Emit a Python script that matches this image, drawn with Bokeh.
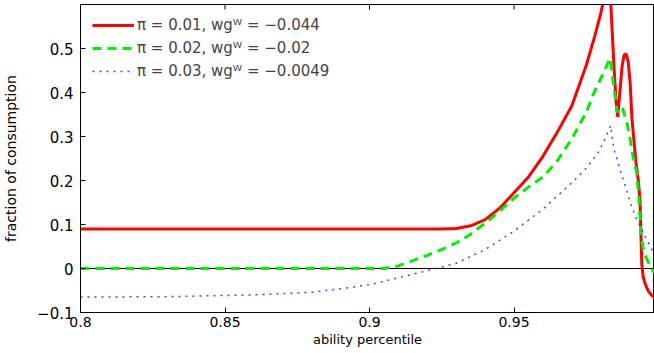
from bokeh.plotting import figure
from bokeh.models import Span, Range1d, FixedTicker, Legend, LegendItem
from bokeh.embed import file_html
from bokeh.resources import INLINE

# ---- data ----
red_x = [0.80, 0.85, 0.90, 0.925, 0.930, 0.935, 0.940, 0.945, 0.950, 0.955, 0.960, 0.965,
         0.970, 0.975, 0.978, 0.980, 0.9815, 0.9825, 0.9832, 0.9838, 0.9846, 0.9853, 0.9859,
         0.9866, 0.9874, 0.9881, 0.9888, 0.9895, 0.9902, 0.9908, 0.9915, 0.9922, 0.9930,
         0.9936, 0.9939, 0.9942, 0.9947, 0.9955, 0.9965, 0.9975, 0.9986]
red_y = [0.09, 0.09, 0.09, 0.09, 0.091, 0.097, 0.111, 0.137, 0.172, 0.208, 0.255, 0.31,
         0.37, 0.462, 0.53, 0.58, 0.625, 0.655, 0.64, 0.56, 0.457, 0.38, 0.344,
         0.40, 0.46, 0.485, 0.488, 0.47, 0.42, 0.34, 0.29, 0.24, 0.20,
         0.155, 0.08, 0.01, -0.02, -0.037, -0.052, -0.06, -0.066]

green_x = [0.80, 0.85, 0.90, 0.905, 0.91, 0.915, 0.92, 0.925, 0.93, 0.935, 0.94, 0.945, 0.95,
           0.955, 0.96, 0.965, 0.97, 0.975, 0.978, 0.981, 0.9832, 0.9840, 0.9848, 0.9857,
           0.9866, 0.9874, 0.9882, 0.9891, 0.9900, 0.9908, 0.9917, 0.9925, 0.9932, 0.9940,
           0.9950, 0.9962, 0.9975, 0.9986]
green_y = [0.0, 0.0, 0.0, 0.0, 0.006, 0.018, 0.03, 0.043, 0.058, 0.078, 0.103, 0.13, 0.16,
           0.185, 0.208, 0.245, 0.295, 0.355, 0.405, 0.445, 0.478, 0.44, 0.40, 0.355,
           0.365, 0.367, 0.35, 0.33, 0.30, 0.268, 0.24, 0.215, 0.16, 0.07,
           0.035, 0.018, 0.0, -0.01]

blue_x = [0.80, 0.83, 0.86, 0.88, 0.89, 0.90, 0.91, 0.92, 0.93, 0.94, 0.95, 0.96, 0.97,
          0.975, 0.979, 0.9815, 0.9834, 0.9846, 0.9858, 0.9868, 0.9880, 0.9891, 0.9905,
          0.9920, 0.9937, 0.9960, 0.9986]
blue_y = [-0.065, -0.064, -0.06, -0.054, -0.046, -0.037, -0.021, -0.005, 0.012, 0.043, 0.085,
          0.135, 0.195, 0.228, 0.262, 0.295, 0.325, 0.27, 0.245, 0.222, 0.198, 0.175, 0.145,
          0.118, 0.095, 0.065, 0.03]

labels = ["\u03c0 = 0.01, wg\u1d42 = \u22120.044",
          "\u03c0 = 0.02, wg\u1d42 = \u22120.02",
          "\u03c0 = 0.03, wg\u1d42 = \u22120.0049"]

x_ticks = [0.8, 0.85, 0.9, 0.95]
y_ticks = [-0.1, 0.0, 0.1, 0.2, 0.3, 0.4, 0.5]
y_tick_labels = {-0.1: "\u22120.1", 0.0: "0", 0.1: "0.1", 0.2: "0.2", 0.3: "0.3", 0.4: "0.4", 0.5: "0.5"}
x_tick_labels = {0.8: "0.8", 0.85: "0.85", 0.9: "0.9", 0.95: "0.95"}

FONT = "DejaVu Sans"
Y_MIN, Y_MAX = -0.1, 0.6
FRAME_H = 308  # px of plotting area

p = figure(width=654, height=353, output_backend="svg", toolbar_location=None,
           x_range=Range1d(0.8, 0.9986), y_range=Range1d(Y_MIN, Y_MAX),
           min_border_left=77, min_border_right=0, min_border_top=4, min_border_bottom=41)

p.background_fill_color = "white"
p.border_fill_color = "white"
p.outline_line_color = "black"
p.outline_line_width = 1
p.grid.visible = False

for ax, ticks, labs in ((p.xaxis[0], x_ticks, x_tick_labels), (p.yaxis[0], y_ticks, y_tick_labels)):
    ax.ticker = FixedTicker(ticks=ticks)
    ax.major_label_overrides = labs
    ax.major_tick_in = 5
    ax.major_tick_out = 0
    ax.minor_tick_line_color = None
    ax.axis_line_color = "black"
    ax.major_tick_line_color = "black"
    ax.major_label_text_font = FONT
    ax.major_label_text_font_size = "15px"
    ax.major_label_text_color = "black"
    ax.axis_label_text_font = FONT
    ax.axis_label_text_font_style = "normal"
    ax.axis_label_text_font_size = "14px"
    ax.axis_label_text_color = "black"

p.xaxis.axis_label = "ability percentile"
p.yaxis.axis_label = "fraction of consumption"
p.xaxis.major_label_text_font_size = "14px"
p.xaxis.axis_label_text_font_size = "13px"
p.xaxis.major_label_standoff = 4
p.xaxis.axis_label_standoff = 2
p.yaxis.major_label_standoff = 7
p.yaxis.axis_label_standoff = 15

# mirrored inward tick marks along the top edge (MATLAB box style)
tick_len = 5 * (Y_MAX - Y_MIN) / FRAME_H
top_ticks = x_ticks[1:]
p.segment(x0=top_ticks, x1=top_ticks, y0=[Y_MAX] * len(top_ticks),
          y1=[Y_MAX - tick_len] * len(top_ticks), line_color="black", line_width=1)

zero = Span(location=0, dimension="width", line_color="black", line_width=1, level="underlay")
p.add_layout(zero)

r1 = p.line(red_x, red_y, line_color="#ff0000", line_width=3)
r2 = p.line(green_x, green_y, line_color="#00ee00", line_width=3, line_dash="9 6")
r3 = p.line(blue_x, blue_y, line_color="#3030ff", line_width=1.5, line_dash="2 5", line_alpha=0.9)

legend = Legend(items=[LegendItem(label=labels[0], renderers=[r1]),
                       LegendItem(label=labels[1], renderers=[r2]),
                       LegendItem(label=labels[2], renderers=[r3])],
                location=(12, 231), margin=0, padding=0, spacing=3,
                glyph_width=42, glyph_height=20, label_standoff=3,
                label_text_font=FONT, label_text_font_size="15px",
                border_line_color=None, background_fill_alpha=0)
p.add_layout(legend)

open("out.html", "w").write(file_html(p, INLINE))
